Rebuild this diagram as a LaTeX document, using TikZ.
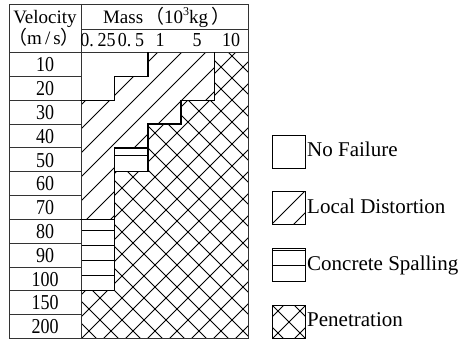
\documentclass[tikz,border=0pt]{standalone}
\usepackage{fontspec}
\usepackage{graphicx}
\setmainfont{Liberation Serif}
\newfontfamily\cjk{Noto Sans CJK SC}
\begin{document}
\begin{tikzpicture}[x=1pt,y=-1pt,
  gridline/.style={black!80,line width=0.8pt},
  bound/.style={black,line width=1.5pt,line join=miter,line cap=rect},
  hatch/.style={black,line width=0.8pt},
  hdr/.style={font=\fontsize{19}{19}\selectfont,inner sep=0pt,anchor=base},
  sub/.style={font=\fontsize{18}{18}\selectfont,inner sep=0pt,anchor=base},
  num/.style={font=\fontsize{18}{18}\selectfont,inner sep=0pt,anchor=base},
  leg/.style={font=\fontsize{21}{21}\selectfont,inner sep=0pt,anchor=base west},
  legbox/.style={draw=black,line width=0.9pt}]
\useasboundingbox (0,0) rectangle (460,339);
\fill[white] (0,0) rectangle (460,339);

% Local distortion region
\begin{scope}
\clip (147.8,52.7) -- (214.6,52.7) -- (214.6,100.3) -- (181.2,100.3) -- (181.2,124.1) -- (147.8,124.1) -- (147.8,147.9) -- (114.4,147.9) -- (114.4,219.3) -- (81,219.3) -- (81,100.3) -- (114.4,100.3) -- (114.4,76.5) -- (147.8,76.5) -- cycle;
\foreach \c in {162,186,...,354} \draw[hatch] (\c,0) -- ++(-400,400);
\end{scope}

% Penetration region
\begin{scope}
\clip (214.6,52.7) -- (248,52.7) -- (248,338.3) -- (81,338.3) -- (81,290.7) -- (114.4,290.7) -- (114.4,171.7) -- (147.8,171.7) -- (147.8,124.1) -- (181.2,124.1) -- (181.2,100.3) -- (214.6,100.3) -- cycle;
\foreach \c in {266,288,...,596} \draw[hatch] (\c,0) -- ++(-400,400);
\foreach \c in {-264,-242,...,198} \draw[hatch] (\c,0) -- ++(400,400);
\end{scope}

% Concrete spalling lines
\draw[hatch] (114.4,155.7) -- (147.8,155.7);
\foreach \y in {230.7,245.7,260.7,275.7} \draw[hatch] (81,\y) -- (114.4,\y);

% Table grid
\draw[gridline] (9,4) rectangle (248,338.3);
\draw[gridline] (81,4) -- (81,338.3);
\draw[gridline] (81,29) -- (248,29);
\draw[gridline] (9,52.7) -- (248,52.7);
\foreach \i in {1,...,11} \draw[gridline] (9,{52.7+23.8*\i}) -- (81,{52.7+23.8*\i});

% Region boundaries
\draw[bound] (147.8,52.7) -- (147.8,76.5) -- (114.4,76.5) -- (114.4,100.3) -- (81,100.3);
\draw[bound] (214.6,52.7) -- (214.6,100.3) -- (181.2,100.3) -- (181.2,124.1) -- (147.8,124.1) -- (147.8,171.7) -- (114.4,171.7) -- (114.4,290.7) -- (81,290.7);
\draw[bound] (114.4,147.9) rectangle (147.8,171.7);
\draw[bound] (81,219.3) -- (114.4,219.3);

% Header texts
\node[hdr] (hvel) at (45,23.5) {Velocity};
\node[hdr] (hunit) at (44,45) {{\cjk （}m\,/\,s{\cjk ）}};
\node[hdr] (hmass) at (167,23.5) {Mass\hspace{0.1em}{\cjk （}10\raisebox{0.42em}{\fontsize{12}{12}\selectfont 3}kg\hspace{0.2em}{\cjk ）}};
\node[sub] (m1) at (98,46.7) {\scalebox{1}[1.1]{0.\hspace{0.2em}25}};
\node[sub] (m2) at (131,46.7) {\scalebox{1}[1.1]{0.\hspace{0.2em}5}};
\node[sub] (m3) at (160,46.7) {\scalebox{1}[1.1]{1}};
\node[sub] (m4) at (197,46.7) {\scalebox{1}[1.1]{5}};
\node[sub] (m5) at (231,46.7) {\scalebox{1}[1.1]{10}};

% Velocity values
\foreach \t [count=\i from 0] in {10,20,30,40,50,60,70,80,90,100,150,200}
  \node[num] (r\i) at (45,{71.9+23.8*\i}) {\scalebox{1}[1.18]{\t}};

% Legend
\draw[legbox] (272,135) rectangle (305,168);
\node[leg] (lnf) at (307,156.5) {No Failure};

\begin{scope}
\clip (272,191.5) rectangle (305,224.5);
\foreach \c in {496,518} \draw[hatch] (\c,0) -- ++(-400,400);
\end{scope}
\draw[legbox] (272,191.5) rectangle (305,224.5);
\node[leg] (lld) at (307,213) {Local Distortion};

\draw[hatch] (272,250.8) -- (305,250.8);
\draw[hatch] (272,265) -- (305,265);
\draw[legbox] (272,248.5) rectangle (305,281.5);
\node[leg] (lcs) at (307,270) {Concrete Spalling};

\begin{scope}
\clip (272,305) rectangle (305,338);
\foreach \c in {589,611,633} \draw[hatch] (\c,0) -- ++(-400,400);
\foreach \c in {-55,-33,-11} \draw[hatch] (\c,0) -- ++(400,400);
\end{scope}
\draw[legbox] (272,305) rectangle (305,338);
\node[leg] (lpen) at (307,326.5) {Penetration};
\end{tikzpicture}
\end{document}
